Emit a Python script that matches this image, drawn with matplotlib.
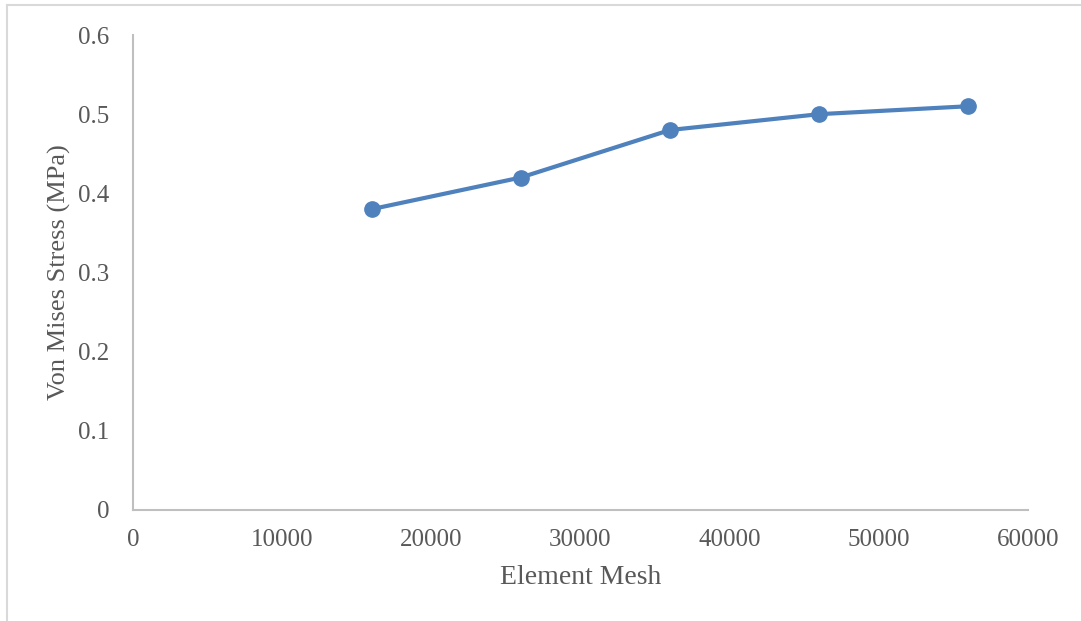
import matplotlib.pyplot as plt
from matplotlib.lines import Line2D

# 数据
element_mesh = [16000, 26000, 36000, 46000, 56000]
von_mises = [0.38, 0.42, 0.48, 0.50, 0.51]

x_ticks = [0, 10000, 20000, 30000, 40000, 50000, 60000]
y_ticks = [0, 0.1, 0.2, 0.3, 0.4, 0.5, 0.6]
y_tick_labels = ['0', '0.1', '0.2', '0.3', '0.4', '0.5', '0.6']

plt.rcParams['font.family'] = ['Liberation Serif', 'DejaVu Serif']
text_color = '#595959'

fig = plt.figure(figsize=(10.81, 6.21), dpi=100)
ax = fig.add_axes([133 / 1081, 1 - 510 / 621, (1028 - 133) / 1081, (510 - 35) / 621])

ax.plot(element_mesh, von_mises, color='#4F81BD', linewidth=3,
        marker='o', markersize=11, clip_on=False)

ax.set_xlim(0, 60000)
ax.set_ylim(0, 0.6)
ax.set_xticks(x_ticks)
ax.set_xticklabels([str(t) for t in x_ticks])
ax.set_yticks(y_ticks)
ax.set_yticklabels(y_tick_labels)
ax.tick_params(length=0, labelsize=18, labelcolor=text_color)
ax.tick_params(axis='x', pad=14)
ax.tick_params(axis='y', pad=17)

for side in ['top', 'right']:
    ax.spines[side].set_visible(False)
for side in ['left', 'bottom']:
    ax.spines[side].set_color('#BFBFBF')
    ax.spines[side].set_linewidth(1.5)

ax.set_xlabel('Element Mesh', fontsize=20, color=text_color, labelpad=10)
ax.set_ylabel('Von Mises Stress (MPa)', fontsize=19, color=text_color, labelpad=5)

# 外框 (上边与左边)
fig.add_artist(Line2D([7 / 1081, 1], [1 - 5 / 621, 1 - 5 / 621],
                      transform=fig.transFigure, color='#D9D9D9', linewidth=1.5))
fig.add_artist(Line2D([7 / 1081, 7 / 1081], [0, 1 - 5 / 621],
                      transform=fig.transFigure, color='#D9D9D9', linewidth=1.5))

fig.savefig('out.png', dpi=100)
